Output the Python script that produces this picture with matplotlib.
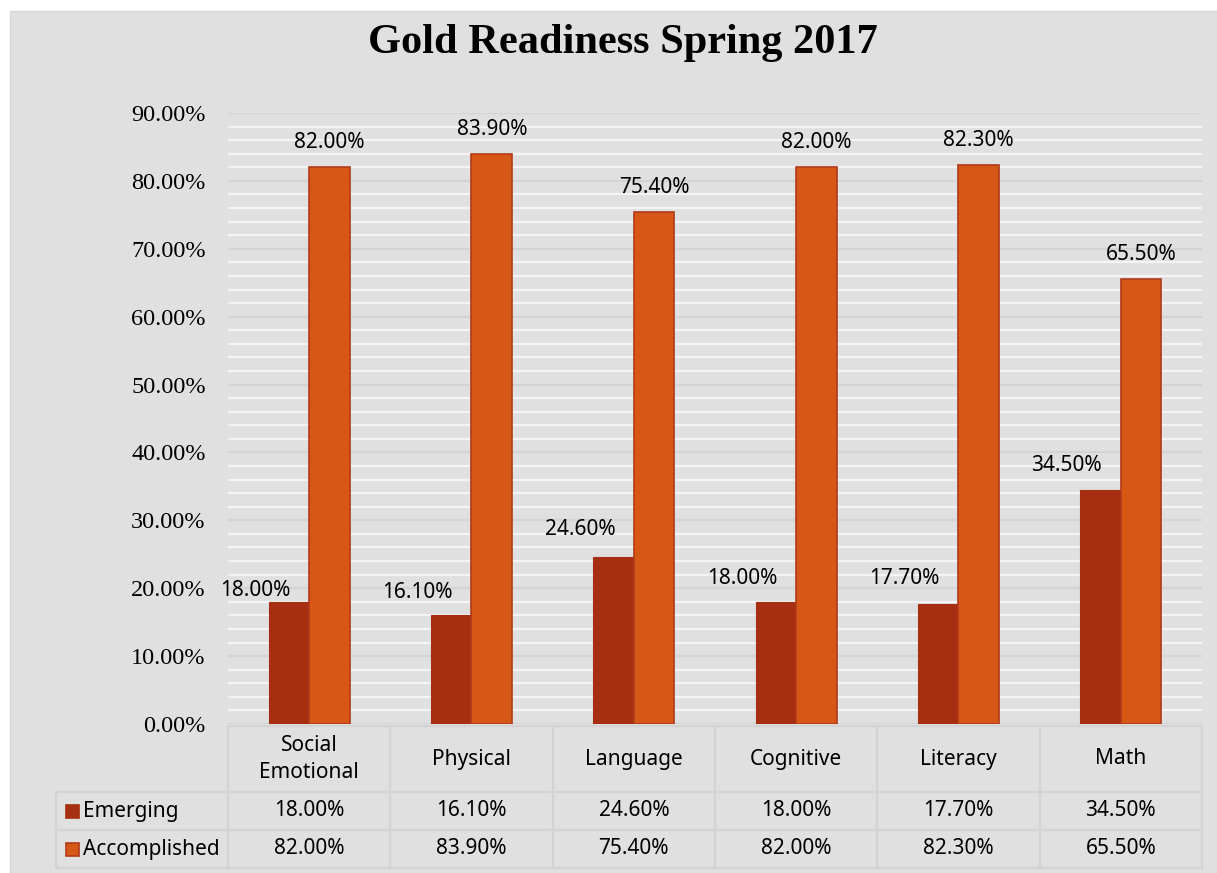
import matplotlib
matplotlib.use("Agg")
import matplotlib.pyplot as plt
from matplotlib.patches import Rectangle
from matplotlib.lines import Line2D
from matplotlib.ticker import MultipleLocator
from matplotlib.transforms import blended_transform_factory
import numpy as np

categories = ["Social\nEmotional", "Physical", "Language", "Cognitive", "Literacy", "Math"]
emerging = [18.0, 16.1, 24.6, 18.0, 17.7, 34.5]
accomplished = [82.0, 83.9, 75.4, 82.0, 82.3, 65.5]
series_names = ["Emerging", "Accomplished"]

# colours / fonts
BG = "#e0e0e0"
C_EM = "#a52f10"
C_AC = "#d75717"
C_EDGE = "#b03a1a"
GRID_MAJ = "#d4d4d4"
GRID_MIN = "#f4f4f4"
TABLE_LINE = "#d3d3d3"
SERIF = "Liberation Serif"
SANS = "Noto Sans"
FS = 15

W, H = 1217, 873
fig = plt.figure(figsize=(W / 100, H / 100), dpi=100)
fig.patch.set_facecolor("white")
fig.add_artist(Rectangle((10 / W, 0), 1, 1 - 11 / H, transform=fig.transFigure,
                         facecolor=BG, edgecolor="#d8d8d8", lw=1, zorder=0))

def fy(px):  # pixel row -> figure fraction
    return 1 - px / H

ax = fig.add_axes([228 / W, fy(724), 974 / W, 611 / H])
ax.set_facecolor("none")
ax.set_xlim(-0.5, len(categories) - 0.5)
ax.set_ylim(0, 90)

# gridlines
ax.yaxis.set_major_locator(MultipleLocator(10))
ax.yaxis.set_minor_locator(MultipleLocator(2))
ax.grid(which="minor", axis="y", color=GRID_MIN, lw=1.6, zorder=0)
ax.grid(which="major", axis="y", color=GRID_MAJ, lw=1.6, zorder=0)
ax.set_axisbelow(True)
for s in ax.spines.values():
    s.set_visible(False)
ax.set_xticks([])
ax.tick_params(axis="y", which="both", length=0, pad=16)
yt = np.arange(0, 91, 10)
ax.set_yticks(yt)
ax.set_yticklabels(["{:.2f}%".format(v) for v in yt], fontfamily=SERIF, fontsize=17.5)

x = np.arange(len(categories))
w = 0.25
ax.bar(x - w / 2, emerging, w, color=C_EM, edgecolor=C_EM, lw=0.8, zorder=2)
ax.bar(x + w / 2, accomplished, w, color=C_AC, edgecolor=C_EDGE, lw=1.2, zorder=2)

em_lift = [1.7, 3.3, 4.0, 3.5, 3.8, 3.6]
for i in range(len(categories)):
    ax.text(x[i] + w / 2, accomplished[i] + 3.6, "{:.2f}%".format(accomplished[i]),
            ha="center", va="center", fontfamily=SANS, fontsize=FS)
    ax.text(x[i] - w / 2 + 0.01, emerging[i] + em_lift[i], "{:.2f}%".format(emerging[i]),
            ha="right", va="center", fontfamily=SANS, fontsize=FS)

# data table under the axis
tr = blended_transform_factory(ax.transData, fig.transFigure)
x0, x1 = -0.5, len(categories) - 0.5
left_px = 56
left = ax.transData.inverted().transform((left_px, 0))[0]
rows_px = [726, 792, 830, 868]

def hline(y_px, xa, xb):
    ax.add_line(Line2D([xa, xb], [fy(y_px)] * 2, transform=tr, color=TABLE_LINE,
                       lw=1.6, clip_on=False))

def vline(xv, ya, yb):
    ax.add_line(Line2D([xv, xv], [fy(ya), fy(yb)], transform=tr, color=TABLE_LINE,
                       lw=1.6, clip_on=False))

hline(rows_px[0], x0, x1)
for r in rows_px[1:]:
    hline(r, left, x1)
for k in range(len(categories) + 1):
    vline(x0 + k, rows_px[0], rows_px[-1])
vline(left, rows_px[1], rows_px[-1])

hdr_y = fy((rows_px[0] + rows_px[1]) / 2)
for i, c in enumerate(categories):
    ax.text(x[i], hdr_y, c, transform=tr, ha="center", va="center",
            fontfamily=SANS, fontsize=FS, linespacing=1.4, clip_on=False)

row_vals = [emerging, accomplished]
row_cols = [(C_EM, C_EM), (C_AC, C_EDGE)]
for r, (name, vals) in enumerate(zip(series_names, row_vals)):
    yc = fy((rows_px[r + 1] + rows_px[r + 2]) / 2)
    fig.add_artist(Rectangle((66 / W, yc - 6.5 / H), 13 / W, 13 / H, transform=fig.transFigure,
                             facecolor=row_cols[r][0], edgecolor=row_cols[r][1], lw=1.2))
    fig.text(83 / W, yc, name, ha="left", va="center", fontfamily=SANS, fontsize=FS)
    for i, v in enumerate(vals):
        ax.text(x[i], yc, "{:.2f}%".format(v), transform=tr, ha="center", va="center",
                fontfamily=SANS, fontsize=FS, clip_on=False)

fig.text(623 / W, fy(43), "Gold Readiness Spring 2017", ha="center", va="center",
         fontfamily=SERIF, fontweight="bold", fontsize=30.5)

fig.savefig("out.png", dpi=100, facecolor=fig.get_facecolor())
